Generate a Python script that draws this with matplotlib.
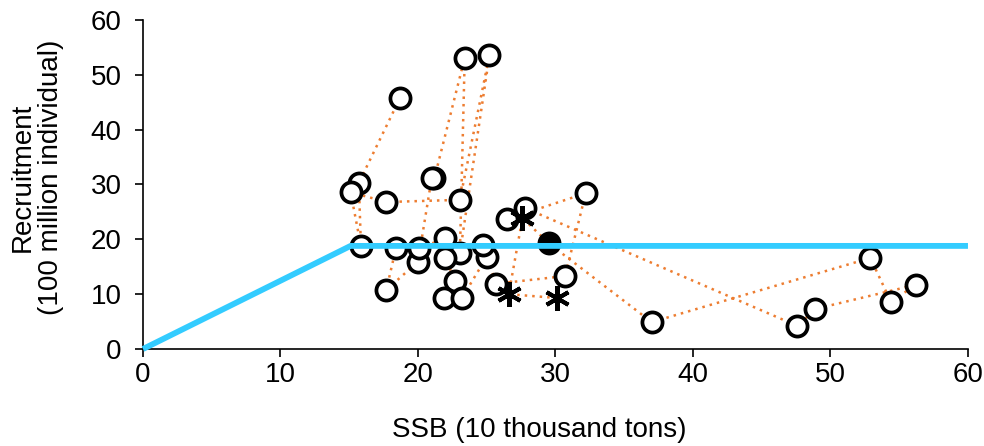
import matplotlib.pyplot as plt

plt.rcParams["font.family"] = ["Liberation Sans", "DejaVu Sans"]

# stock-recruitment pairs, in plotting order (x = SSB, y = recruitment)
ssb = [18.7, 15.7, 15.85, 15.1, 17.7, 23.05, 25.2, 23.05, 23.4, 21.2,
       21.0, 20.0, 17.7, 18.4, 20.1, 22.0, 22.0, 22.7, 21.9, 23.2,
       25.0, 24.7, 25.7, 30.7, 32.2, 26.5, 27.8, 47.6, 48.9, 56.2,
       54.4, 52.9, 37.0, 29.5, 27.6, 26.6, 30.1]
recruit = [45.8, 30.3, 18.8, 28.6, 26.8, 27.2, 53.6, 17.5, 53.1, 31.2,
           31.2, 15.9, 10.8, 18.4, 18.4, 20.2, 16.6, 12.4, 9.3, 9.3,
           16.8, 19.0, 11.9, 13.3, 28.4, 23.7, 25.7, 4.2, 7.3, 11.7,
           8.6, 16.6, 4.9, 19.3, 23.9, 10.0, 9.3]
# o = open circle, f = filled circle, s = star
kind = ["o"] * 33 + ["f"] + ["s"] * 3

# hockey-stick reference line
hs_x = [0, 15.1, 60]
hs_y = [0, 18.8, 18.8]

fig = plt.figure(figsize=(9.84, 4.46), dpi=100)
ax = fig.add_axes([0.1453, 0.2175, 0.8384, 0.7377])

ax.plot(ssb, recruit, linestyle=(0, (1, 2)), color="#ED7D31",
        linewidth=1.8, zorder=2)

for x, y, k in zip(ssb, recruit, kind):
    if k == "o":
        ax.plot(x, y, marker="o", markersize=14.5, markerfacecolor="white",
                markeredgecolor="black", markeredgewidth=2.7, zorder=3)
    elif k == "f":
        ax.plot(x, y, marker="o", markersize=14.5, markerfacecolor="black",
                markeredgecolor="black", markeredgewidth=2.7, zorder=3)
    else:
        ax.plot(x, y, marker=(6, 2, 0), markersize=18,
                markeredgecolor="black", markeredgewidth=2.9, zorder=3)

ax.plot(hs_x, hs_y, color="#33CCFF", linewidth=4.2, zorder=4,
        solid_capstyle="butt", clip_on=False)

ax.set_xlim(0, 60)
ax.set_ylim(0, 60)
ax.set_xticks(range(0, 61, 10))
ax.set_yticks(range(0, 61, 10))

for side in ["top", "right"]:
    ax.spines[side].set_visible(False)
for side in ["left", "bottom"]:
    ax.spines[side].set_linewidth(1.2)

ax.tick_params(axis="x", direction="out", length=5.5, width=1.2,
               labelsize=20, pad=4)
ax.tick_params(axis="y", direction="out", length=5.5, width=1.2,
               labelsize=20, pad=10)

fig.text(539 / 984, 1 - 430 / 446, "SSB (10 thousand tons)",
         ha="center", va="center", fontsize=20)
fig.text(37 / 984, 1 - 177 / 446, "Recruitment\n(100 million individual)",
         ha="center", va="center", rotation=90, fontsize=20,
         multialignment="center", linespacing=1.1)

fig.savefig("out.png", dpi=100)
